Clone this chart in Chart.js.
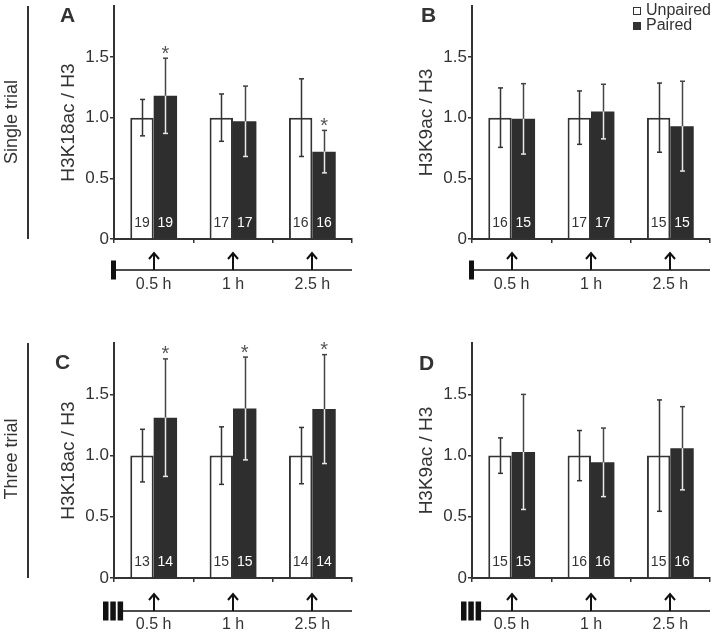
<!DOCTYPE html>
<html>
<head>
<meta charset="utf-8">
<script src="https://cdn.jsdelivr.net/npm/chart.js@4.4.0/dist/chart.umd.min.js"></script>
<style>
  body { margin: 0; background: #fff; }
  #fig { position: relative; width: 716px; height: 633px; overflow: hidden;
         font-family: "Liberation Sans", Arial, sans-serif; color: #333; }
  canvas { position: absolute; }
  .letter { position: absolute; font-weight: bold; font-size: 21px; line-height: 21px; color: #333; }
  .rowlab { position: absolute; font-size: 18px; white-space: nowrap;
            transform: translate(-50%, -50%) rotate(-90deg); }
  .vline { position: absolute; width: 2px; background: #333; }
  .legtext { position: absolute; font-size: 16px; line-height: 16px; white-space: nowrap; }
  .legbox { position: absolute; width: 8px; height: 8px; box-sizing: border-box; }
</style>
</head>
<body>
<div id="fig">
  <canvas id="panelA" width="358" height="320" style="left:0;top:0"></canvas>
  <canvas id="panelB" width="358" height="320" style="left:358px;top:0"></canvas>
  <canvas id="panelC" width="358" height="313" style="left:0;top:320px"></canvas>
  <canvas id="panelD" width="358" height="313" style="left:358px;top:320px"></canvas>

  <div class="letter" style="left:60px;top:4px">A</div>
  <div class="letter" style="left:421px;top:4px">B</div>
  <div class="letter" style="left:55px;top:351px">C</div>
  <div class="letter" style="left:419px;top:352px">D</div>

  <div class="rowlab" style="left:11px;top:122px">Single trial</div>
  <div class="vline" style="left:27px;top:6px;height:233px"></div>
  <div class="rowlab" style="left:11px;top:459px">Three trial</div>
  <div class="vline" style="left:27px;top:343px;height:235px"></div>

  <div class="legbox" style="left:633px;top:7px;border:1.5px solid #333;background:#fff"></div>
  <div class="legtext" style="left:646px;top:2px">Unpaired</div>
  <div class="legbox" style="left:633px;top:22px;background:#333"></div>
  <div class="legtext" style="left:646px;top:17px">Paired</div>
</div>

<script>
const FONT = '"Liberation Sans", Arial, sans-serif';
Chart.defaults.font.family = FONT;
Chart.defaults.color = '#333';

const timeLabels = ['0.5 h', '1 h', '2.5 h'];

// A: H3K18ac, single trial
const aUnpaired = [1.0, 1.0, 1.0];
const aUnpairedErr = [0.15, 0.195, 0.32];
const aPaired = [1.18, 0.97, 0.72];
const aPairedErr = [0.31, 0.29, 0.175];
const aUnpairedN = [19, 17, 16];
const aPairedN = [19, 17, 16];
const aSig = [true, false, true];

// B: H3K9ac, single trial
const bUnpaired = [1.0, 1.0, 1.0];
const bUnpairedErr = [0.245, 0.22, 0.285];
const bPaired = [0.99, 1.05, 0.93];
const bPairedErr = [0.29, 0.225, 0.37];
const bUnpairedN = [16, 17, 15];
const bPairedN = [15, 17, 15];
const bSig = [false, false, false];

// C: H3K18ac, three trial
const cUnpaired = [1.0, 1.0, 1.0];
const cUnpairedErr = [0.215, 0.235, 0.23];
const cPaired = [1.31, 1.385, 1.38];
const cPairedErr = [0.48, 0.42, 0.445];
const cUnpairedN = [13, 15, 14];
const cPairedN = [14, 15, 14];
const cSig = [true, true, true];

// D: H3K9ac, three trial
const dUnpaired = [1.0, 1.0, 1.0];
const dUnpairedErr = [0.145, 0.205, 0.455];
const dPaired = [1.03, 0.945, 1.06];
const dPairedErr = [0.47, 0.28, 0.34];
const dUnpairedN = [15, 16, 15];
const dPairedN = [15, 16, 16];
const dSig = [false, false, false];

// error bars, n counts, asterisks and the trial timeline under each panel
const marksPlugin = {
  id: 'marks',
  afterDatasetsDraw(chart) {
    const ctx = chart.ctx;
    const y = chart.scales.y;
    const zero = y.getPixelForValue(0);
    ctx.save();
    chart.data.datasets.forEach((ds, di) => {
      const meta = chart.getDatasetMeta(di);
      meta.data.forEach((bar, i) => {
        const v = ds.data[i], e = ds.err[i];
        const top = y.getPixelForValue(v + e);
        const bot = y.getPixelForValue(v - e);
        const bx = Math.round(bar.x) + 0.5;
        const seg = (y1, y2, col) => {
          ctx.strokeStyle = col;
          ctx.lineWidth = 1.5;
          ctx.beginPath();
          ctx.moveTo(bx, y1); ctx.lineTo(bx, y2);
          ctx.stroke();
        };
        const cap = (yy, col) => {
          ctx.strokeStyle = col;
          ctx.lineWidth = 1.5;
          ctx.beginPath();
          ctx.moveTo(bx - 2.5, yy); ctx.lineTo(bx + 2.5, yy);
          ctx.stroke();
        };
        if (di === 0) {
          seg(top, bot, '#333'); cap(top, '#333'); cap(bot, '#333');
        } else {
          seg(top, bar.y, '#444'); cap(top, '#444');
          seg(bar.y, bot, '#e8e8e8'); cap(bot, '#e8e8e8');
        }
        ctx.fillStyle = di === 0 ? '#333' : '#fff';
        ctx.font = '14px ' + FONT;
        ctx.textAlign = 'center';
        ctx.textBaseline = 'middle';
        ctx.fillText(String(ds.n[i]), bar.x, zero - 16);
        if (ds.sig && ds.sig[i]) {
          ctx.fillStyle = '#555';
          ctx.font = '20px ' + FONT;
          ctx.fillText('*', bar.x, top - 4);
        }
      });
    });
    ctx.restore();
  },
  afterDraw(chart, args, opts) {
    const ctx = chart.ctx;
    const area = chart.chartArea;
    const x = chart.scales.x;
    const base = area.bottom + opts.line;
    ctx.save();
    ctx.fillStyle = '#111';
    ctx.strokeStyle = '#111';
    ctx.lineWidth = 1.5;
    let start = area.left;
    if (opts.trials === 1) {
      ctx.fillRect(area.left - 3, base - 9.5, 5, 19);
    } else {
      for (let k = 0; k < 3; k++) ctx.fillRect(area.left - 11 + k * 7.3, base - 9.5, 5.5, 19);
      start = area.left + 9;
    }
    ctx.beginPath();
    ctx.moveTo(start, base); ctx.lineTo(area.right, base);
    ctx.stroke();
    ctx.lineWidth = 2;
    timeLabels.forEach((_, i) => {
      const px = Math.round(x.getPixelForValue(i));
      ctx.beginPath();
      ctx.moveTo(px, base); ctx.lineTo(px, base - 17);
      ctx.moveTo(px - 5, base - 11); ctx.lineTo(px, base - 17); ctx.lineTo(px + 5, base - 11);
      ctx.stroke();
    });
    ctx.restore();
  }
};

function makePanel(id, p) {
  return new Chart(document.getElementById(id), {
    type: 'bar',
    data: {
      labels: timeLabels,
      datasets: [
        { label: 'Unpaired', data: p.unpaired, err: p.unpairedErr, n: p.unpairedN,
          backgroundColor: '#fff', borderColor: '#333', borderWidth: 2 },
        { label: 'Paired', data: p.paired, err: p.pairedErr, n: p.pairedN, sig: p.sig,
          backgroundColor: '#2e2e2e', borderColor: '#2e2e2e', borderWidth: 0 }
      ]
    },
    options: {
      responsive: false,
      animation: false,
      devicePixelRatio: 1,
      events: [],
      layout: { padding: { left: 0, right: 6, top: p.padTop, bottom: 0 } },
      datasets: { bar: { categoryPercentage: 0.59, barPercentage: 1 } },
      scales: {
        x: {
          grid: { drawOnChartArea: false, offset: true, tickLength: 4, color: '#333', lineWidth: 1.5 },
          border: { color: '#333', width: 2 },
          ticks: { color: '#333', font: { size: 16 }, padding: p.labelPad, maxRotation: 0, autoSkip: false },
          afterFit: s => { s.height = p.xHeight; s.paddingLeft = 0; s.paddingRight = 0; }
        },
        y: {
          min: 0,
          max: 1.92,
          grid: { drawOnChartArea: false, tickLength: 4, color: '#333', lineWidth: 1.5 },
          border: { color: '#333', width: 2 },
          ticks: {
            stepSize: 0.5, includeBounds: false, padding: 1, color: '#333', font: { size: 17 },
            callback: v => v === 0 ? '0' : v.toFixed(1)
          },
          title: { display: true, text: p.yTitle, color: '#333', font: { size: 19 }, padding: { top: 57, bottom: 0 } },
          afterFit: s => { s.width = 114; s.paddingTop = 0; s.paddingBottom = 0; }
        }
      },
      plugins: {
        legend: { display: false },
        tooltip: { enabled: false },
        marks: { trials: p.trials, line: p.line }
      }
    },
    plugins: [marksPlugin]
  });
}

makePanel('panelA', { unpaired: aUnpaired, unpairedErr: aUnpairedErr, paired: aPaired, pairedErr: aPairedErr,
  unpairedN: aUnpairedN, pairedN: aPairedN, sig: aSig, yTitle: 'H3K18ac / H3',
  padTop: 6, xHeight: 81, labelPad: 32, trials: 1, line: 31 });
makePanel('panelB', { unpaired: bUnpaired, unpairedErr: bUnpairedErr, paired: bPaired, pairedErr: bPairedErr,
  unpairedN: bUnpairedN, pairedN: bPairedN, sig: bSig, yTitle: 'H3K9ac / H3',
  padTop: 6, xHeight: 81, labelPad: 32, trials: 1, line: 31 });
makePanel('panelC', { unpaired: cUnpaired, unpairedErr: cUnpairedErr, paired: cPaired, pairedErr: cPairedErr,
  unpairedN: cUnpairedN, pairedN: cPairedN, sig: cSig, yTitle: 'H3K18ac / H3',
  padTop: 23, xHeight: 55, labelPad: 33, trials: 3, line: 33 });
makePanel('panelD', { unpaired: dUnpaired, unpairedErr: dUnpairedErr, paired: dPaired, pairedErr: dPairedErr,
  unpairedN: dUnpairedN, pairedN: dPairedN, sig: dSig, yTitle: 'H3K9ac / H3',
  padTop: 23, xHeight: 55, labelPad: 33, trials: 3, line: 33 });
</script>
</body>
</html>
